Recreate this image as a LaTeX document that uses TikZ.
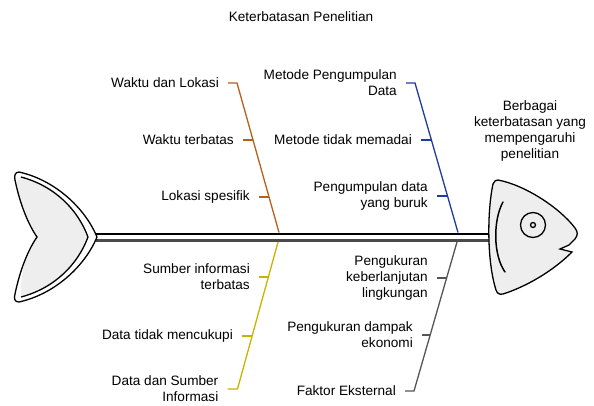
\documentclass[tikz,border=0pt]{standalone}
\usepackage{fontspec}
\setmainfont{Liberation Sans}
\definecolor{cbrown}{HTML}{B5601C}
\definecolor{cblue}{HTML}{1E3C9C}
\definecolor{cyellow}{HTML}{C8B300}
\definecolor{cgray}{HTML}{555555}
\definecolor{spinegray}{HTML}{4A4A4A}
\definecolor{fishfill}{HTML}{EEEEEE}
\begin{document}
\begin{tikzpicture}[x=1pt,y=-1pt,
  txt/.style={inner sep=0pt,font=\fontsize{13.6}{15.8}\selectfont},
  lbl/.style={txt,anchor=east,align=right},
  bone/.style={line width=1.3pt},
  outl/.style={line width=1.3pt,draw=black}]
\useasboundingbox (0,0) rectangle (594,405);

% title
\node[txt] (title) at (301,17) {Keterbatasan Penelitian};

% spine
\coordinate (tailtip) at (96,237.3);
\coordinate (headleft) at (492,237.3);
\fill[white] (96,233) rectangle (492,242);
\draw[line width=2pt,black] (96,233.5) -- (492,233.5);
\draw[line width=2.5pt,spinegray] (96,240.6) -- (492,240.6);

% tail
\fill[white] (19,172) .. controls (55,180) and (85,208) .. (97,237)
  .. controls (85,266) and (55,294) .. (19,302)
  .. controls (14,302) and (14,298) .. (15,294)
  .. controls (20,270) and (28,250) .. (37,237)
  .. controls (28,224) and (20,204) .. (15,180)
  .. controls (14,176) and (15,172) .. (19,172) -- cycle;
\fill[fishfill] (21,177) .. controls (55,186) and (78,210) .. (88,237)
  .. controls (78,264) and (55,288) .. (21,297)
  .. controls (20,270) and (28,250) .. (37,237)
  .. controls (28,224) and (20,204) .. (16,182) -- cycle;
\draw[outl] (21,177) .. controls (55,186) and (78,210) .. (88,237)
  .. controls (78,264) and (55,288) .. (21,297);
\draw[outl] (19,172) .. controls (55,180) and (85,208) .. (97,237)
  .. controls (85,266) and (55,294) .. (19,302)
  .. controls (14,302) and (14,298) .. (15,294)
  .. controls (20,270) and (28,250) .. (37,237)
  .. controls (28,224) and (20,204) .. (15,180)
  .. controls (14,176) and (15,172) .. (19,172) -- cycle;

% head
\draw[outl,fill=fishfill] (498,180) .. controls (525,185) and (560,208) .. (575,228)
  .. controls (578,232) and (578,235) .. (575,239)
  -- (569,245) -- (560,249) -- (572,252)
  .. controls (552,272) and (525,287) .. (503,294)
  .. controls (499,295) and (497,293) .. (496,290)
  .. controls (487,262) and (487,212) .. (493,184)
  .. controls (494,181) and (496,180) .. (498,180) -- cycle;
\draw[outl] (533,225) circle (12.5pt);
\draw[outl] (533,225) circle (2.5pt);
\draw[line width=1.5pt,line cap=round] (503,202) .. controls (493,220) and (493,255) .. (505,272);

\node[txt,align=center] (effect) at (530,131) {Berbagai\\keterbatasan yang\\mempengaruhi\\penelitian};

% brown branch: Waktu dan Lokasi
\coordinate (b1top) at (237,83);
\coordinate (b1end) at (279,232.5);
\coordinate (b1t2) at (253,140);
\coordinate (b1t3) at (268.9,197);
\node[lbl] (w1) at (219,83) {Waktu dan Lokasi};
\node[lbl] (w2) at (234,140) {Waktu terbatas};
\node[lbl] (w3) at (250,197) {Lokasi spesifik};
\draw[bone,cbrown] ([xshift=9pt]w1.east) -- (b1top) -- (b1end);
\draw[bone,cbrown] ([xshift=9pt]w2.east) -- (b1t2);
\draw[bone,cbrown] ([xshift=9pt]w3.east) -- (b1t3);

% blue branch: Metode Pengumpulan Data
\coordinate (b2top) at (415,83);
\coordinate (b2end) at (458,232.5);
\coordinate (b2t2) at (431.3,140);
\coordinate (b2t3) at (447.4,196);
\node[lbl] (m1) at (397,83) {Metode Pengumpulan\\Data};
\node[lbl] (m2) at (412,140) {Metode tidak memadai};
\node[lbl] (m3) at (428,196) {Pengumpulan data\\yang buruk};
\draw[bone,cblue] ([xshift=9pt]m1.east) -- (b2top) -- (b2end);
\draw[bone,cblue] ([xshift=9pt]m2.east) -- (b2t2);
\draw[bone,cblue] ([xshift=9pt]m3.east) -- (b2t3);

% yellow branch: Data dan Sumber Informasi
\coordinate (b3end) at (278,242);
\coordinate (b3bot) at (237.5,389);
\coordinate (b3t1) at (268.4,277);
\coordinate (b3t2) at (252.1,336);
\node[lbl] (d1) at (250,277) {Sumber informasi\\terbatas};
\node[lbl] (d2) at (233,336) {Data tidak mencukupi};
\node[lbl] (d3) at (218.5,389) {Data dan Sumber\\Informasi};
\draw[bone,cyellow] ([xshift=9pt]d3.east) -- (b3bot) -- (b3end);
\draw[bone,cyellow] ([xshift=9pt]d1.east) -- (b3t1);
\draw[bone,cyellow] ([xshift=9pt]d2.east) -- (b3t2);

% gray branch: Faktor Eksternal
\coordinate (b4end) at (457,242);
\coordinate (b4bot) at (414,391);
\coordinate (b4t1) at (446.6,278);
\coordinate (b4t2) at (430.2,335);
\node[lbl] (f1) at (428,278) {Pengukuran\\keberlanjutan\\lingkungan};
\node[lbl] (f2) at (413,335) {Pengukuran dampak\\ekonomi};
\node[lbl] (f3) at (396,391) {Faktor Eksternal};
\draw[bone,cgray] ([xshift=9pt]f3.east) -- (b4bot) -- (b4end);
\draw[bone,cgray] ([xshift=9pt]f1.east) -- (b4t1);
\draw[bone,cgray] ([xshift=9pt]f2.east) -- (b4t2);
\end{tikzpicture}
\end{document}
